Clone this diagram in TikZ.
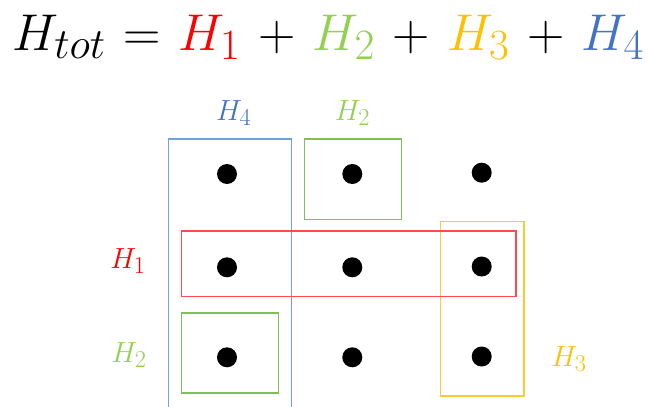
\documentclass[tikz,border=0pt]{standalone}
\usetikzlibrary{positioning}
\definecolor{cred}{HTML}{FF0000}
\definecolor{cgreen}{HTML}{92D050}
\definecolor{cyellow}{HTML}{FFC000}
\definecolor{cblue}{HTML}{4472C4}
\definecolor{rred}{HTML}{FF4B4B}
\definecolor{rgreen}{HTML}{7FBF55}
\definecolor{ryellow}{HTML}{FFC936}
\definecolor{rblue}{HTML}{6FA3DA}
\tikzset{
  dot/.style={circle,fill=black,inner sep=0pt,minimum width=19pt,minimum height=20pt},
  lbl/.style={inner sep=0pt,anchor=base,font=\Huge,scale=1.17},
  box/.style={line width=1.1pt}
}
\begin{document}
\begin{tikzpicture}[x=1pt,y=-1pt]
\useasboundingbox (0,0) rectangle (649,407);
% title
\node[inner sep=0pt,anchor=base,font=\Huge,scale=2.08] (title) at (328.5,50)
  {\medmuskip=6mu\thickmuskip=6mu$H_{tot}=\color{cred}H_1\color{black}+\color{cgreen}H_2\color{black}+\color{cyellow}H_3\color{black}+\color{cblue}H_4$};
% dots
\node[dot] (d11) at (227,174) {};
\node[dot] (d12) at (352.3,174) {};
\node[dot] (d13) at (481.7,172.7) {};
\node[dot] (d21) at (227,267.3) {};
\node[dot] (d22) at (352.3,267.3) {};
\node[dot] (d23) at (481.7,266.5) {};
\node[dot] (d31) at (227,357.3) {};
\node[dot] (d32) at (352.3,357.3) {};
\node[dot] (d33) at (481.7,356.5) {};
% boxes
\draw[box,rblue] (168.3,408) -- (168.3,139) -- (291.7,139) -- (291.7,408);
\draw[box,rgreen] (304.7,139) rectangle (401.3,219.3);
\draw[box,ryellow] (440.7,221.7) rectangle (524,396);
\draw[box,rred] (181.7,231) rectangle (516,296.7);
\draw[box,rgreen] (181.7,313) rectangle (278.7,393);
% labels
\node[lbl,text=cblue] (l4) at (233.7,120) {$H_4$};
\node[lbl,text=cgreen] (l2t) at (352.5,120) {$H_2$};
\node[lbl,text=cred] (l1) at (128,268) {$H_1$};
\node[lbl,text=cgreen] (l2l) at (129,362) {$H_2$};
\node[lbl,text=cyellow] (l3) at (569,366) {$H_3$};
\end{tikzpicture}
\end{document}
